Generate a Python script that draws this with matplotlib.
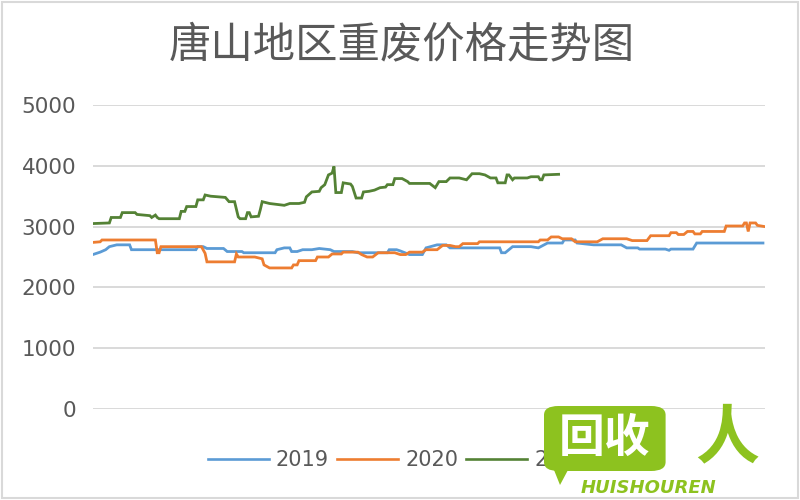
import matplotlib
matplotlib.use("Agg")
import matplotlib.pyplot as plt
from matplotlib.patches import FancyBboxPatch, Rectangle, Polygon

plt.rcParams['font.family'] = ['Noto Sans CJK SC', 'DejaVu Sans']

title = "唐山地区重废价格走势图"
series_names = ["2019", "2020", "2021"]
colors = ["#5B9BD5", "#ED7D31", "#548235"]

# day-of-year breakpoints and prices
d2019 = [0, 4, 7, 9, 13, 20, 21, 56, 57, 60, 62, 71, 73, 81, 82, 99, 100, 104, 107, 108,
         111, 114, 119, 123, 129, 131, 141, 144, 160, 161, 165, 167, 172, 179, 181, 187,
         192, 194, 221, 222, 224, 228, 238, 242, 247, 255, 256, 262, 263, 272, 287, 290,
         296, 297, 311, 313, 314, 326, 328, 364]
v2019 = [2540, 2580, 2620, 2670, 2700, 2700, 2620, 2620, 2670, 2670, 2640, 2640, 2590, 2590,
         2570, 2570, 2620, 2650, 2650, 2590, 2590, 2620, 2620, 2640, 2620, 2590, 2590, 2570,
         2570, 2620, 2620, 2600, 2540, 2540, 2650, 2700, 2700, 2650, 2650, 2570, 2570, 2670,
         2670, 2650, 2730, 2730, 2780, 2780, 2730, 2700, 2700, 2650, 2650, 2630, 2630, 2610,
         2630, 2630, 2730, 2730]

d2020 = [0, 4, 5, 34, 35, 36, 37, 59, 61, 62, 77, 78, 79, 88, 92, 93, 96, 108, 109, 111,
         112, 121, 122, 128, 130, 135, 136, 144, 146, 149, 152, 155, 164, 167, 170, 172, 179,
         181, 187, 190, 194, 197, 199, 201, 209, 210, 242, 243, 247, 249, 253, 255, 260, 262,
         274, 277, 290, 293, 301, 303, 313, 314, 317, 318, 321, 323, 326, 327, 330, 331, 343,
         344, 353, 354, 355, 356, 357, 360, 361, 365]
v2020 = [2740, 2750, 2780, 2780, 2570, 2570, 2670, 2670, 2560, 2420, 2420, 2550, 2500, 2500,
         2470, 2370, 2320, 2320, 2370, 2370, 2440, 2440, 2500, 2500, 2550, 2550, 2580, 2580,
         2540, 2500, 2500, 2570, 2570, 2540, 2540, 2580, 2580, 2620, 2620, 2690, 2690, 2670,
         2670, 2720, 2720, 2750, 2750, 2780, 2780, 2830, 2830, 2800, 2800, 2750, 2750, 2800,
         2800, 2770, 2770, 2850, 2850, 2900, 2900, 2870, 2870, 2920, 2920, 2880, 2880, 2920,
         2920, 3010, 3010, 3060, 3060, 2920, 3060, 3060, 3020, 3000]

d2021 = [0, 9, 10, 15, 16, 23, 24, 31, 32, 34, 35, 36, 47, 48, 50, 51, 56, 57, 60, 61, 64,
         72, 74, 77, 79, 80, 83, 84, 85, 86, 90, 91, 92, 96, 104, 107, 112, 115, 116, 119,
         123, 124, 126, 128, 130, 131, 132, 135, 136, 140, 141, 143, 146, 147, 150, 153, 156,
         159, 160, 163, 164, 168, 171, 172, 183, 186, 188, 192, 194, 199, 203, 206, 210, 213,
         216, 219, 220, 224, 225, 226, 228, 229, 236, 238, 242, 243, 244, 245, 253]
v2021 = [3050, 3060, 3150, 3150, 3230, 3230, 3200, 3180, 3150, 3190, 3150, 3130, 3130, 3250,
         3250, 3330, 3330, 3440, 3440, 3520, 3500, 3480, 3410, 3410, 3160, 3130, 3130, 3230,
         3230, 3160, 3170, 3280, 3410, 3380, 3350, 3380, 3380, 3400, 3490, 3570, 3580, 3640,
         3690, 3850, 3880, 3990, 3560, 3560, 3720, 3700, 3660, 3470, 3470, 3570, 3580, 3600,
         3640, 3650, 3690, 3690, 3790, 3790, 3740, 3710, 3710, 3640, 3740, 3740, 3800, 3800,
         3770, 3870, 3870, 3850, 3800, 3800, 3720, 3720, 3850, 3850, 3770, 3800, 3800, 3820,
         3820, 3770, 3770, 3850, 3860]

yticks = [0, 1000, 2000, 3000, 4000, 5000]
text_color = "#595959"
grid_color = "#D9D9D9"

fig = plt.figure(figsize=(8, 5), dpi=100)
ax = fig.add_axes([0.116, 0.182, 0.84, 0.608])

for d, v, c, n in zip([d2019, d2020, d2021], [v2019, v2020, v2021], colors, series_names):
    ax.plot(d, v, color=c, lw=2.0, label=n, solid_joinstyle='miter')

ax.set_xlim(0, 365)
ax.set_ylim(0, 5000)
ax.set_yticks(yticks)
ax.set_yticklabels([str(t) for t in yticks], family=['DejaVu Sans'], fontsize=15.5, color=text_color)
ax.set_xticks([])
ax.tick_params(axis='y', length=0, pad=12)
ax.grid(axis='y', color=grid_color, lw=1.4)
ax.set_axisbelow(True)
for s in ax.spines.values():
    s.set_visible(False)

fig.text(0.502, 0.91, title, ha='center', va='center', fontsize=30.5, color=text_color,
         family=['Noto Sans CJK SC'])

handles, labels = ax.get_legend_handles_labels()
leg = fig.legend(handles, labels, loc='center', bbox_to_anchor=(0.497, 0.079), ncol=3,
                 frameon=False, handlelength=2.9, handletextpad=0.35, columnspacing=0.4,
                 prop={'family': 'DejaVu Sans', 'size': 15})
for t in leg.get_texts():
    t.set_color(text_color)
for h in leg.legend_handles:
    h.set_linewidth(1.9)

# outer chart border
fig.patches.append(Rectangle((0.002, 0.004), 0.996, 0.992, transform=fig.transFigure,
                             fill=False, edgecolor="#D9D9D9", lw=1.5, zorder=1))

# watermark logo
wm = "#8DC21F"
bubble = FancyBboxPatch((0.68, 0.058), 0.152, 0.13, boxstyle="round,pad=0,rounding_size=0.018",
                        transform=fig.transFigure, facecolor=wm, edgecolor='none', zorder=10)
fig.patches.append(bubble)
tail = Polygon([[0.69, 0.07], [0.71, 0.06], [0.70, 0.03]], closed=True,
               transform=fig.transFigure, facecolor=wm, edgecolor='none', zorder=10)
fig.patches.append(tail)
fig.text(0.756, 0.123, "回收", ha='center', va='center', fontsize=33, color='white',
         fontweight='bold', family=['Noto Sans CJK SC'], zorder=11)
fig.text(0.811, 0.024, "HUISHOUREN", ha='center', va='center', fontsize=13, color=wm,
         fontweight='bold', style='italic', family=['DejaVu Sans'], zorder=11)
fig.text(0.909, 0.122, "人", ha='center', va='center', fontsize=46, color=wm,
         fontweight='bold', family=['Noto Sans CJK SC'], zorder=11)

fig.savefig("out.png", dpi=100, facecolor='white')
